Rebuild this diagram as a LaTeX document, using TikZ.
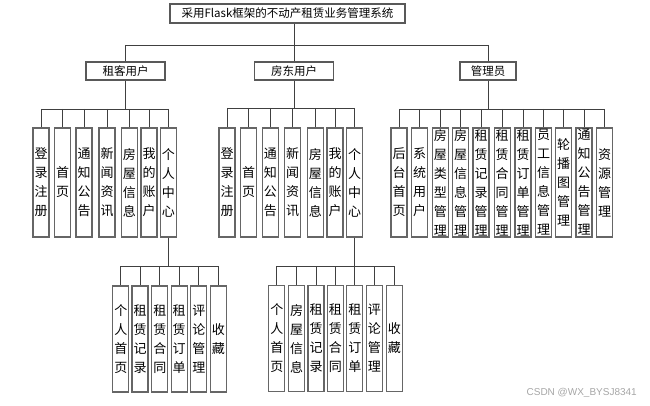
\documentclass[tikz,border=0pt]{standalone}
\usepackage{fontspec}
\setmainfont{Noto Sans CJK SC}
\newfontfamily\wmfont{Liberation Sans}
\begin{document}
\begin{tikzpicture}[x=1pt,y=-1pt,
  wire/.style={draw=black!75,line width=0.9pt},
  headbox/.style={draw=black!65,line width=1.1pt,fill=white,inner sep=0pt,font=\fontsize{11.5pt}{13pt}\selectfont},
  vbox/.style={draw=black!60,line width=1.1pt,fill=white,inner sep=0pt,minimum width=16pt,align=center,font=\fontsize{13pt}{19pt}\selectfont},
  lvtwo/.style={vbox,minimum height=109pt},
  lvthree/.style={vbox,minimum height=106pt}]
\useasboundingbox (0,0) rectangle (650,406);
% title
\node[headbox,minimum width=235pt,minimum height=19pt] (title) at (287.5,13.5) {采用Flask框架的不动产租赁业务管理系统};
% level 1
\node[headbox,minimum width=79pt,minimum height=18pt] (ka) at (125.5,71) {租客用户};
\node[headbox,minimum width=79pt,minimum height=18pt] (kb) at (294,71) {房东用户};
\node[headbox,minimum width=56pt,minimum height=18pt] (kc) at (488,71) {管理员};
\coordinate (bus0) at (0,45);
\draw[wire] (title.south -| kb.north) -- (kb.north);
\draw[wire] (ka.north |- bus0) -- (kc.north |- bus0);
\draw[wire] (ka.north |- bus0) -- (ka.north);
\draw[wire] (kc.north |- bus0) -- (kc.north);
% level 2 tenant
\foreach \x/\t [count=\i] in {41/{登\\录\\注\\册},62.5/{首\\页},84/{通\\知\\公\\告},107/{新\\闻\\资\\讯},129.3/{房\\屋\\信\\息},149/{我\\的\\账\\户},168.3/{个\\人\\中\\心}}
  \node[lvtwo] (a\i) at (\x,182.5) {\t};
% level 2 landlord
\foreach \x/\t [count=\i] in {227/{登\\录\\注\\册},248.5/{首\\页},270.3/{通\\知\\公\\告},292.7/{新\\闻\\资\\讯},315.3/{房\\屋\\信\\息},335/{我\\的\\账\\户},354.7/{个\\人\\中\\心}}
  \node[lvtwo] (b\i) at (\x,182.5) {\t};
% level 2 admin
\foreach \x/\t [count=\i] in {399/{后\\台\\首\\页},419.7/{系\\统\\用\\户},440.3/{房\\屋\\类\\型\\管\\理},460.7/{房\\屋\\信\\息\\管\\理},481/{租\\赁\\记\\录\\管\\理},502.2/{租\\赁\\合\\同\\管\\理},523/{租\\赁\\订\\单\\管\\理},543.5/{员\\工\\信\\息\\管\\理},563.7/{轮\\播\\图\\管\\理},584/{通\\知\\公\\告\\管\\理},604.5/{资\\源\\管\\理}}
  \node[lvtwo] (c\i) at (\x,182.5) {\t};
% level 3 tenant
\foreach \x/\t [count=\i] in {120.8/{个\\人\\首\\页},140/{租\\赁\\记\\录},159.8/{租\\赁\\合\\同},179.2/{租\\赁\\订\\单},198.8/{评\\论\\管\\理},218.3/{收\\藏}}
  \node[lvthree] (d\i) at (\x,339) {\t};
% level 3 landlord
\foreach \x/\t [count=\i] in {276.8/{个\\人\\首\\页},296.7/{房\\屋\\信\\息},316/{租\\赁\\记\\录},335.3/{租\\赁\\合\\同},354.8/{租\\赁\\订\\单},374.3/{评\\论\\管\\理},394.3/{收\\藏}}
  \node[lvthree] (e\i) at (\x,338.5) {\t};
% buses
\coordinate (busA) at (0,109);
\coordinate (busB) at (0,108);
\coordinate (busC) at (0,109);
\coordinate (busD) at (0,266);
\coordinate (busE) at (0,266);
\draw[wire] (ka.south) -- (ka.south |- busA);
\draw[wire] (a1.north |- busA) -- (a7.north |- busA);
\foreach \i in {1,...,7} \draw[wire] (a\i.north |- busA) -- (a\i.north);
\draw[wire] (kb.south) -- (kb.south |- busB);
\draw[wire] (b1.north |- busB) -- (b7.north |- busB);
\foreach \i in {1,...,7} \draw[wire] (b\i.north |- busB) -- (b\i.north);
\draw[wire] (kc.south) -- (kc.south |- busC);
\draw[wire] (c1.north |- busC) -- (c11.north |- busC);
\foreach \i in {1,...,11} \draw[wire] (c\i.north |- busC) -- (c\i.north);
\draw[wire] (a7.south) -- (a7.south |- busD);
\draw[wire] (d1.north |- busD) -- (d6.north |- busD);
\foreach \i in {1,...,6} \draw[wire] (d\i.north |- busD) -- (d\i.north);
\draw[wire] (b7.south) -- (b7.south |- busE);
\draw[wire] (e1.north |- busE) -- (e7.north |- busE);
\foreach \i in {1,...,7} \draw[wire] (e\i.north |- busE) -- (e\i.north);
% watermark
\node[text=black!35,font=\wmfont\fontsize{10pt}{12pt}\selectfont,anchor=east,inner sep=0pt] (wm) at (637,392.5) {CSDN @WX\_BYSJ8341};
\end{tikzpicture}
\end{document}
